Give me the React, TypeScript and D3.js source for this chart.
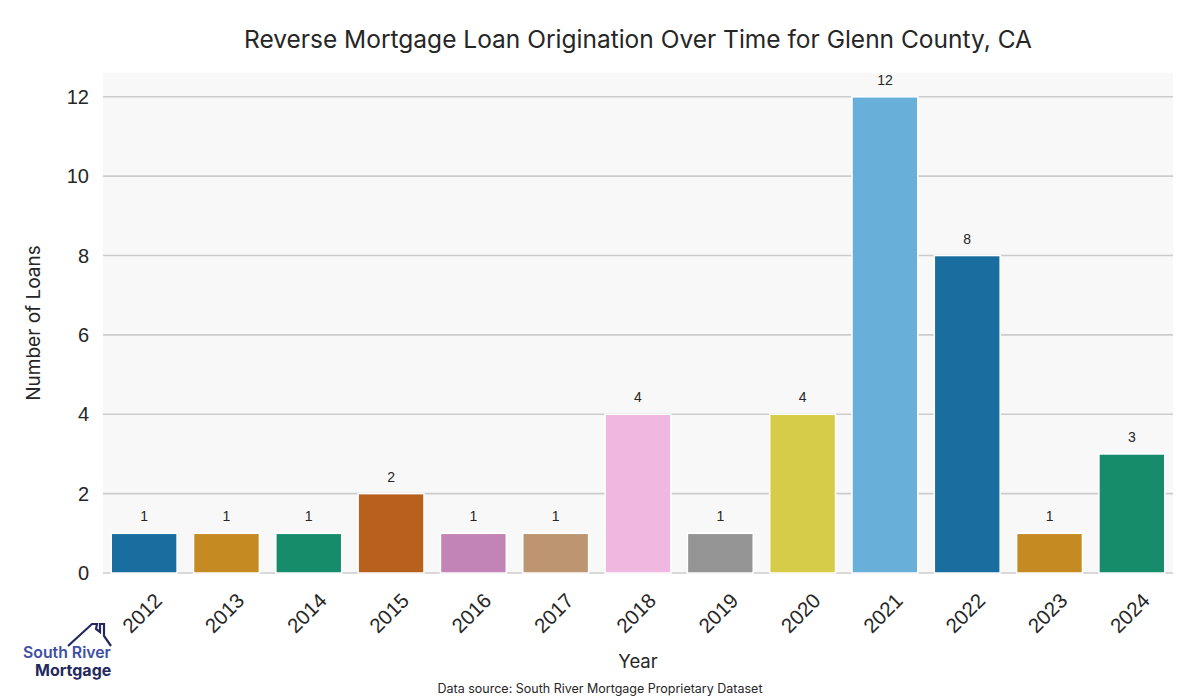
import React from "react";
import * as d3 from "d3";

const years = ["2012","2013","2014","2015","2016","2017","2018","2019","2020","2021","2022","2023","2024"];
const loans = [1,1,1,2,1,1,4,1,4,12,8,1,3];
const barColors = ["#1a6e9f","#c58a22","#178c6a","#b8611e","#c283b6","#bd9571","#f0b8e0","#959595","#d6cc48","#68b0d9","#1a6e9f","#c58a22","#178c6a"];
const yTicks = [0,2,4,6,8,10,12];

const W = 1200, H = 700;
const left = 103, right = 1173, top = 73, bottom = 573;

export default function App() {
  const x = d3.scaleBand<string>().domain(years).range([left, right]).paddingInner(0.2).paddingOuter(0.1);
  const y = d3.scaleLinear().domain([0, 12.6]).range([bottom, top]);
  const cx = (yr: string) => (x(yr) as number) + x.bandwidth() / 2;
  return (
    <svg width={W} height={H} style={{ display: "block", position: "absolute", left: 0, top: 0 }}>
      <rect x={0} y={0} width={W} height={H} fill="#ffffff" />
      <rect x={left} y={top} width={right - left} height={bottom - top} fill="#f8f8f8" />
      {yTicks.map(t => (
        <g key={t}>
          <line x1={left} x2={right} y1={y(t)} y2={y(t)} stroke="#cccccc" strokeWidth={1.6} />
          <text x={left - 14} y={y(t)} dy="0.35em" textAnchor="end" fontFamily="Liberation Sans, Arial, sans-serif" fontSize={20} fill="#262626">{t}</text>
        </g>
      ))}
      {years.map((yr, i) => (
        <g key={yr}>
          <rect x={x(yr)} y={y(loans[i])} width={x.bandwidth()} height={y(0) - y(loans[i])} fill={barColors[i]} stroke="#ffffff" strokeWidth={1.5} />
          <text x={cx(yr)} y={y(loans[i]) - 12} textAnchor="middle" fontFamily="Liberation Sans, Arial, sans-serif" fontSize={14} fill="#262626">{loans[i]}</text>
          <text transform={`translate(${cx(yr) - 2},${613}) rotate(-45)`} textAnchor="middle" dy="0.35em" fontFamily="Liberation Sans, Arial, sans-serif" fontSize={20.5} fill="#262626">{yr}</text>
        </g>
      ))}
      <text x={(left + right) / 2} y={48} textAnchor="middle" fontFamily="Inter, sans-serif" fontSize={24.5} fill="#262626">Reverse Mortgage Loan Origination Over Time for Glenn County, CA</text>
      <text transform={`translate(40,${(top + bottom) / 2}) rotate(-90)`} textAnchor="middle" fontFamily="Inter, sans-serif" fontSize={19} fill="#262626">Number of Loans</text>
      <text x={(left + right) / 2} y={668} textAnchor="middle" fontFamily="Inter, sans-serif" fontSize={18.5} fill="#262626">Year</text>
      <text x={600} y={693} textAnchor="middle" fontFamily="Inter, sans-serif" fontSize={12.5} fill="#262626">Data source: South River Mortgage Proprietary Dataset</text>
      <g>
        <polyline points="68,646 92,624 97,624 97,624 96,629 100,632 100,624 104,624 104,636 111,646" fill="none" stroke="#23295e" strokeWidth={2.2} strokeLinejoin="miter" />
        <text x={23} y={658} fontFamily="Inter, sans-serif" fontWeight={600} fontSize={15.8} fill="#3d4fa3">South River</text>
        <text x={35} y={676} fontFamily="Inter, sans-serif" fontWeight={700} fontSize={16} fill="#23295e">Mortgage</text>
      </g>
    </svg>
  );
}
